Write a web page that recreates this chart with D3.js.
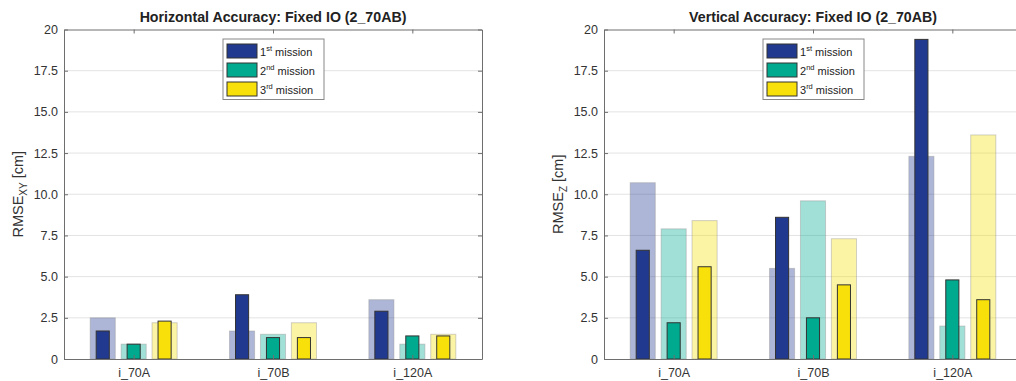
<!DOCTYPE html>
<html><head><meta charset="utf-8">
<script src="https://cdn.jsdelivr.net/npm/d3@7"></script>
<style>body{margin:0;background:#fff}svg{display:block;font-family:"Liberation Sans",Arial,sans-serif}</style>
</head><body><svg id="c" width="1016" height="381"></svg>
<script>
const categories = ["i_70A", "i_70B", "i_120A"];
const missions = ["1", "2", "3"];
const missionSup = ["st", "nd", "rd"];
const colors = ["#213a8f", "#00aa8f", "#f8e00a"];
const yTicks = [0, 2.5, 5, 7.5, 10, 12.5, 15, 17.5, 20];
const yTickLabels = ["0", "2.5", "5.0", "7.5", "10.0", "12.5", "15.0", "17.5", "20"];
// Horizontal accuracy (RMSE_XY), per mission, per category
const xyLight = [[2.5, 1.7, 3.6], [0.9, 1.5, 0.9], [2.2, 2.2, 1.5]];
const xySolid = [[1.7, 3.9, 2.9], [0.9, 1.3, 1.4], [2.3, 1.3, 1.4]];
// Vertical accuracy (RMSE_Z)
const zLight = [[10.7, 5.5, 12.3], [7.9, 9.6, 2.0], [8.4, 7.3, 13.6]];
const zSolid = [[6.6, 8.6, 19.4], [2.2, 2.5, 4.8], [5.6, 4.5, 3.6]];

const svg = d3.select("#c");
const W = 418, yTop = 29.5, yBot = 359;

function panel(x0, title, yMain, ySub, light, solid) {
  const g = svg.append("g").attr("transform", `translate(${x0},0)`);
  const x = d3.scaleLinear().domain([0.5, 3.5]).range([0, W]);
  const y = d3.scaleLinear().domain([0, 20]).range([yBot, yTop]);
  // grid
  g.append("g").selectAll("line").data(yTicks.slice(1, -1)).join("line")
    .attr("x1", 0).attr("x2", W).attr("y1", d => y(d)).attr("y2", d => y(d))
    .attr("stroke", "#e3e3e3").attr("stroke-width", 1);
  // bars
  const offs = [-0.222, 0, 0.222];
  const wL = x(0.18) - x(0), wS = x(0.094) - x(0);
  missions.forEach((m, mi) => {
    g.append("g").selectAll("rect.l").data(light[mi]).join("rect").attr("class", "l")
      .attr("x", (d, i) => x(i + 1 + offs[mi]) - wL / 2).attr("width", wL)
      .attr("y", d => y(d)).attr("height", d => y(0) - y(d))
      .attr("fill", colors[mi]).attr("fill-opacity", 0.37)
      .attr("stroke", "#999").attr("stroke-opacity", 0.45).attr("stroke-width", 1);
  });
  missions.forEach((m, mi) => {
    g.append("g").selectAll("rect.s").data(solid[mi]).join("rect").attr("class", "s")
      .attr("x", (d, i) => x(i + 1 + offs[mi]) - wS / 2).attr("width", wS)
      .attr("y", d => y(d)).attr("height", d => y(0) - y(d))
      .attr("fill", colors[mi]).attr("stroke", "#333").attr("stroke-width", 1);
  });
  // axes
  const ya = g.append("g").call(d3.axisLeft(y).tickValues(yTicks).tickFormat((d, i) => yTickLabels[i]).tickSizeInner(-4).tickSizeOuter(0).tickPadding(6));
  const yr = g.append("g").attr("transform", `translate(${W},0)`).call(d3.axisRight(y).tickValues(yTicks).tickFormat("").tickSizeInner(-4).tickSizeOuter(0));
  const xb = g.append("g").attr("transform", `translate(0,${yBot})`).call(d3.axisBottom(x).tickValues([1, 2, 3]).tickFormat((d, i) => categories[i]).tickSizeInner(-4).tickSizeOuter(0).tickPadding(9));
  const xt = g.append("g").attr("transform", `translate(0,${yTop})`).call(d3.axisTop(x).tickValues([1, 2, 3]).tickFormat("").tickSizeInner(-4).tickSizeOuter(0));
  [ya, yr, xb, xt].forEach(a => {
    a.selectAll("path").attr("stroke", "#6e6e6e");
    a.selectAll("line").attr("stroke", "#6e6e6e");
    a.selectAll("text").attr("fill", "#333").attr("font-size", 12.5).attr("font-family", "Liberation Sans, Arial, sans-serif");
  });
  // title
  g.append("text").attr("x", W / 2).attr("y", 22).attr("text-anchor", "middle")
    .attr("font-size", 14.2).attr("font-weight", "bold").attr("fill", "#222").text(title);
  // y label
  const lbl = g.append("text")
    .attr("text-anchor", "middle").attr("font-size", 14.5).attr("fill", "#333")
    .attr("transform", `translate(${-41},${(yTop + yBot) / 2}) rotate(-90)`);
  lbl.append("tspan").text(yMain);
  lbl.append("tspan").attr("font-size", 10).attr("dy", 4).text(ySub);
  lbl.append("tspan").attr("dy", -4).text(" [cm]");
  // legend
  const lg = g.append("g").attr("transform", `translate(${x(2) - 50},39)`);
  lg.append("rect").attr("width", 101).attr("height", 60.5).attr("fill", "#fff").attr("stroke", "#888");
  missions.forEach((m, mi) => {
    const ry = 5 + mi * 19;
    lg.append("rect").attr("x", 4).attr("y", ry).attr("width", 30).attr("height", 14)
      .attr("fill", colors[mi]).attr("stroke", "#333");
    const t = lg.append("text").attr("x", 37).attr("y", ry + 12).attr("font-size", 11).attr("fill", "#222");
    t.append("tspan").text(m);
    t.append("tspan").attr("font-size", 7.5).attr("dy", -5).text(missionSup[mi]);
    t.append("tspan").attr("dy", 5).text(" mission");
  });
}
panel(64, "Horizontal Accuracy: Fixed IO (2_70AB)", "RMSE", "XY", xyLight, xySolid);
panel(604, "Vertical Accuracy: Fixed IO (2_70AB)", "RMSE", "Z", zLight, zSolid);
</script></body></html>
